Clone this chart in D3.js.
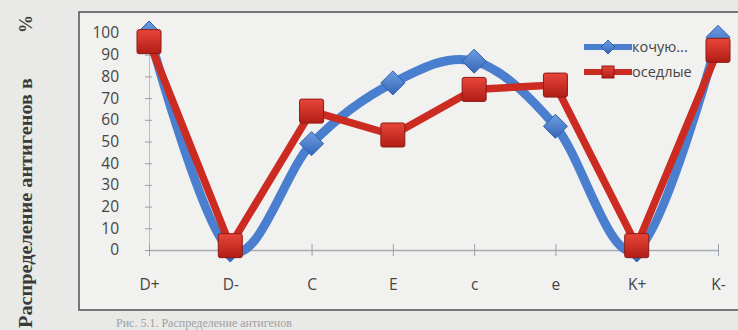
<!DOCTYPE html>
<html>
<head>
<meta charset="utf-8">
<script src="https://cdn.jsdelivr.net/npm/d3@7"></script>
<style>
  html, body { margin: 0; padding: 0; background: #e8e8e6; }
  svg { display: block; }
</style>
</head>
<body>
<svg id="chart" width="738" height="330"></svg>
<script>
// Antigen distribution, nomadic vs settled groups
const categories = ["D+", "D-", "C", "E", "c", "e", "K+", "K-"];
const nomadic = [100, 0, 49, 77, 87, 57, 0, 98];
const settled = [96, 2, 64, 53, 74, 76, 2, 92];
const seriesNames = ["кочую...", "оседлые"];
const yTicks = [0, 10, 20, 30, 40, 50, 60, 70, 80, 90, 100];

const svg = d3.select("#chart");
const W = 738, H = 330;

// page background
svg.append("rect").attr("width", W).attr("height", H).attr("fill", "#e9e9e7");

// chart frame
svg.append("rect")
  .attr("x", 79).attr("y", 12).attr("width", 662).attr("height", 298)
  .attr("fill", "#f1f1ef").attr("stroke", "#5a5a5a").attr("stroke-width", 1.6);

const x = d3.scalePoint().domain(categories).range([149, 718]);
const y = d3.scaleLinear().domain([0, 100]).range([250, 33]);

const tickFont = "'Open Sans', 'Liberation Sans', sans-serif";

// y axis
const yAxis = svg.append("g").attr("transform", "translate(149,0)")
  .call(d3.axisLeft(y).tickValues(yTicks).tickSizeInner(4).tickSizeOuter(0).tickPadding(26));
yAxis.select(".domain").attr("stroke", "#b8bcc4");
yAxis.selectAll(".tick line").attr("stroke", "#9aa0aa").attr("x2", 3).attr("x1", -4);
yAxis.selectAll("text").attr("fill", "#454545").style("font-family", tickFont).style("font-size", "15.5px");

// x axis
const xAxis = svg.append("g").attr("transform", "translate(0,250)")
  .call(d3.axisBottom(x).tickSizeInner(6).tickSizeOuter(0).tickPadding(23));
xAxis.select(".domain").attr("stroke", "#a8acb4").attr("stroke-width", 1.3);
xAxis.selectAll(".tick line").attr("stroke", "#9aa0aa").attr("y1", -6).attr("y2", 6);
xAxis.selectAll("text").attr("fill", "#454545").style("font-family", tickFont).style("font-size", "15.5px");

// axis title
const title = svg.append("g").attr("transform", "translate(32,0) rotate(-90)");
title.append("text")
  .attr("x", -328).attr("y", 0)
  .attr("textLength", 250).attr("lengthAdjust", "spacingAndGlyphs")
  .style("font-family", "'Liberation Serif', 'DejaVu Serif', serif")
  .style("font-weight", "bold").style("font-size", "18px").attr("fill", "#3a3a3a")
  .text("Распределение антигенов в");
title.append("text")
  .attr("x", -33).attr("y", 0)
  .style("font-family", "'Liberation Serif', 'DejaVu Serif', serif")
  .style("font-weight", "bold").style("font-size", "18px").attr("fill", "#3a3a3a")
  .text("%");

// caption below the frame
svg.append("text")
  .attr("x", 116).attr("y", 327)
  .style("font-family", "'Liberation Serif', serif").style("font-size", "12px")
  .attr("fill", "#a0a0a0").text("Рис. 5.1. Распределение антигенов");

const blue = "#4a7fcf", blueDark = "#2f5fae";
const red = "#cc2b22", redDark = "#8e1a14";

// gradients for markers
const defs = svg.append("defs");
const rg = defs.append("linearGradient").attr("id", "redGrad").attr("x1", 0).attr("y1", 0).attr("x2", 0).attr("y2", 1);
rg.append("stop").attr("offset", "0%").attr("stop-color", "#e8463a");
rg.append("stop").attr("offset", "100%").attr("stop-color", "#b01d16");
const bg = defs.append("linearGradient").attr("id", "blueGrad").attr("x1", 0).attr("y1", 0).attr("x2", 0).attr("y2", 1);
bg.append("stop").attr("offset", "0%").attr("stop-color", "#6e9ee0");
bg.append("stop").attr("offset", "100%").attr("stop-color", "#3566b8");

// diamond marker path with half-diagonal r
const diamond = r => `M0,${-r}L${r},0L0,${r}L${-r},0Z`;

// legend
const lg = svg.append("g");
const legY = [47, 72];
lg.append("line").attr("x1", 584).attr("x2", 632).attr("y1", legY[0]).attr("y2", legY[0])
  .attr("stroke", blue).attr("stroke-width", 6);
lg.append("path").attr("d", diamond(7))
  .attr("transform", `translate(608,${legY[0]})`).attr("fill", "url(#blueGrad)").attr("stroke", blueDark);
lg.append("line").attr("x1", 584).attr("x2", 632).attr("y1", legY[1]).attr("y2", legY[1])
  .attr("stroke", red).attr("stroke-width", 6);
lg.append("rect").attr("x", 602).attr("y", legY[1] - 6).attr("width", 12).attr("height", 12)
  .attr("fill", "url(#redGrad)").attr("stroke", redDark);
seriesNames.forEach((n, i) => {
  lg.append("text").attr("x", 632).attr("y", legY[i] + 5)
    .style("font-family", tickFont).style("font-size", "14.5px").attr("fill", "#454545").text(n);
});

// nomadic: smoothed line with diamond markers
const blueLine = d3.line().x((d, i) => x(categories[i])).y(d => y(d)).curve(d3.curveCatmullRom.alpha(0));
svg.append("path").datum(nomadic).attr("d", blueLine)
  .attr("fill", "none").attr("stroke", blue).attr("stroke-width", 9).attr("stroke-linejoin", "round");
svg.selectAll(".dia").data(nomadic).join("path").attr("class", "dia")
  .attr("d", diamond(12))
  .attr("transform", (d, i) => `translate(${x(categories[i])},${y(d)})`)
  .attr("fill", "url(#blueGrad)").attr("stroke", blueDark).attr("stroke-width", 1);

// settled: straight line with square markers
const redLine = d3.line().x((d, i) => x(categories[i])).y(d => y(d));
svg.append("path").datum(settled).attr("d", redLine)
  .attr("fill", "none").attr("stroke", red).attr("stroke-width", 7.5).attr("stroke-linejoin", "round");
const sq = 24;
svg.selectAll(".sq").data(settled).join("rect").attr("class", "sq")
  .attr("x", (d, i) => x(categories[i]) - sq / 2).attr("y", d => y(d) - sq / 2)
  .attr("width", sq).attr("height", sq).attr("rx", 2)
  .attr("fill", "url(#redGrad)").attr("stroke", redDark).attr("stroke-width", 1);
</script>
</body>
</html>
